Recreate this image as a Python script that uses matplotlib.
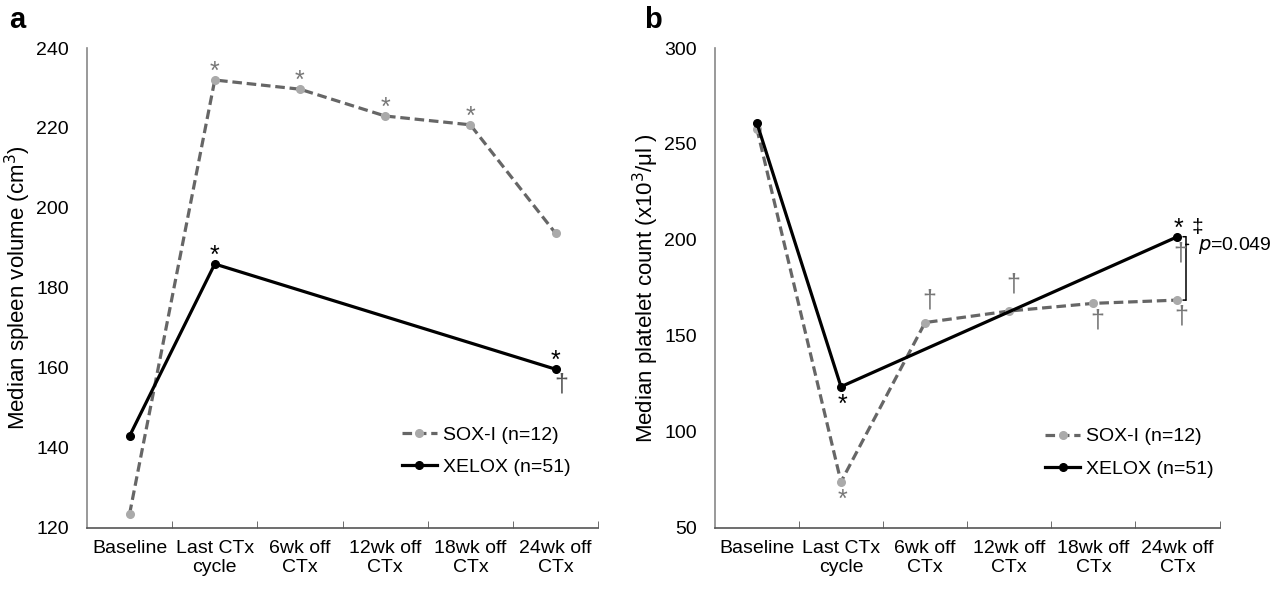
import matplotlib
matplotlib.use("Agg")
from matplotlib import pyplot as plt
from matplotlib.lines import Line2D
from matplotlib.transforms import offset_copy

plt.rcParams['font.family'] = ['Liberation Sans', 'DejaVu Sans']

categories = ['Baseline', 'Last CTx\ncycle', '6wk off\nCTx', '12wk off\nCTx', '18wk off\nCTx', '24wk off\nCTx']

spleen_sox = [123.5, 232, 229.7, 223, 220.8, 193.7]
spleen_xel = [143, 186, None, None, None, 159.7]

plt_sox = [258, 74, 157, 163, 167, 168.7]
plt_xel = [261, 123.6, None, None, None, 201.7]

SOX_LINE = '#666666'
SOX_MARK = '#aaaaaa'
GRAY_TXT = '#777777'
DASH = (0, (3.0, 1.5))

fig = plt.figure(figsize=(12.81, 5.89), dpi=100)
ax_a = fig.add_axes([0.0679, 0.1036, 0.399, 0.8149])
ax_b = fig.add_axes([0.558, 0.1036, 0.394, 0.8149])


def draw_panel(ax, sox, xel, ylim, yticks, ylabel, leg_xy, label_x):
    xs = list(range(len(categories)))
    ax.plot(xs, sox, ls=DASH, color=SOX_LINE, lw=2.3, zorder=2)
    ax.plot(xs, sox, ls='none', marker='o', ms=5.5, color=SOX_MARK, zorder=3)
    xx = [x for x, v in zip(xs, xel) if v is not None]
    yy = [v for v in xel if v is not None]
    ax.plot(xx, yy, '-o', color='black', lw=2.3, ms=5.5, zorder=4)
    ax.set_xlim(-0.5, 5.5)
    ax.set_ylim(*ylim)
    ax.set_yticks(yticks)
    ax.set_xticks(xs)
    ax.set_xticklabels(categories, fontsize=14, linespacing=1.15)
    ax.set_xticks([i + 0.5 for i in range(6)], minor=True)
    ax.tick_params(axis='x', which='major', length=0, pad=9)
    ax.tick_params(axis='x', which='minor', length=5, direction='in', color='#555555')
    ax.tick_params(axis='y', length=0, labelsize=14, pad=13)
    for s in ['top', 'right']:
        ax.spines[s].set_visible(False)
    ax.spines['left'].set_color('#888888')
    ax.spines['bottom'].set_color('#555555')
    ax.spines['left'].set_linewidth(1.2)
    ax.spines['bottom'].set_linewidth(1.2)
    ax.set_ylabel(ylabel, fontsize=16)
    ax.yaxis.set_label_coords(label_x, 0.5)
    h1 = Line2D([], [], ls=DASH, color=SOX_LINE, lw=2.3, marker='o',
                ms=5.5, markerfacecolor=SOX_MARK, markeredgecolor=SOX_MARK)
    h2 = Line2D([], [], ls='-', color='black', lw=2.3, marker='o', ms=5.5)
    ax.legend([h1, h2], ['SOX-I (n=12)', 'XELOX (n=51)'], loc='center left',
              bbox_to_anchor=leg_xy, frameon=False, fontsize=14,
              borderpad=0, borderaxespad=0,
              handlelength=1.8, handletextpad=0.3, labelspacing=0.75)


def mark(ax, x, y, s, dx, dy, color, size=18):
    ax.annotate(s, xy=(x, y), xytext=(dx, dy), textcoords='offset points',
                ha='center', va='center', fontsize=size, color=color)


draw_panel(ax_a, spleen_sox, spleen_xel, (120, 240), range(120, 241, 20),
           'Median spleen volume (cm$^3$)', (0.616, 0.16), -0.105)
draw_panel(ax_b, plt_sox, plt_xel, (50, 300), range(50, 301, 50),
           'Median platelet count (x10$^3$/μl )', (0.655, 0.157), -0.107)

# panel a annotations
for i in [1, 2, 3, 4]:
    mark(ax_a, i, spleen_sox[i], '*', 0, 6, GRAY_TXT)
mark(ax_a, 1, spleen_xel[1], '*', 0, 6, 'black')
mark(ax_a, 5, spleen_xel[5], '*', 0, 6, 'black')
mark(ax_a, 5, spleen_xel[5], '†', 4, -11, '#555555')

# panel b annotations
mark(ax_b, 1, plt_sox[1], '*', 1, -13, GRAY_TXT)
mark(ax_b, 1, plt_xel[1], '*', 1, -13, 'black')
mark(ax_b, 2, plt_sox[2], '†', 3, 16, GRAY_TXT)
mark(ax_b, 3, plt_sox[3], '†', 3, 19, GRAY_TXT)
mark(ax_b, 4, plt_sox[4], '†', 3, -12, GRAY_TXT)
mark(ax_b, 5, plt_sox[5], '†', 3, -12, GRAY_TXT)
mark(ax_b, 5, plt_xel[5], '†', 2, -12, GRAY_TXT)
mark(ax_b, 5, plt_xel[5], '*', 1, 6, 'black')
mark(ax_b, 5, plt_xel[5], '‡', 14, 7, 'black', 15)

# bracket between the two groups at 24wk
tr_v = offset_copy(ax_b.transData, fig=fig, x=6, y=0, units='points')
tr_t = offset_copy(ax_b.transData, fig=fig, x=4, y=0, units='points')
tr_tip = offset_copy(ax_b.transData, fig=fig, x=8, y=0, units='points')
ax_b.plot([5, 5], [plt_sox[5], plt_xel[5]], color='black', lw=1.1,
          transform=tr_v, clip_on=False)
for yv in [plt_sox[5], plt_xel[5]]:
    ax_b.annotate('', xy=(5, yv), xytext=(5, yv), xycoords=tr_t, textcoords=tr_v,
                  arrowprops=dict(arrowstyle='-', color='black', lw=1.1,
                                  shrinkA=0, shrinkB=0))
tip_y = plt_xel[5] - 4
ax_b.annotate('', xy=(5, tip_y), xytext=(5, tip_y), xycoords=tr_tip, textcoords=tr_v,
              arrowprops=dict(arrowstyle='-', color='black', lw=1.1,
                              shrinkA=0, shrinkB=0))
ax_b.annotate('$\\it{p}$=0.049', xy=(5, plt_xel[5]), xytext=(15, -6),
              textcoords='offset points', ha='left', va='center', fontsize=14)

fig.text(0.007, 0.966, 'a', fontsize=21, fontweight='bold', va='center')
fig.text(0.503, 0.966, 'b', fontsize=21, fontweight='bold', va='center')

fig.savefig('out.png', dpi=100)
